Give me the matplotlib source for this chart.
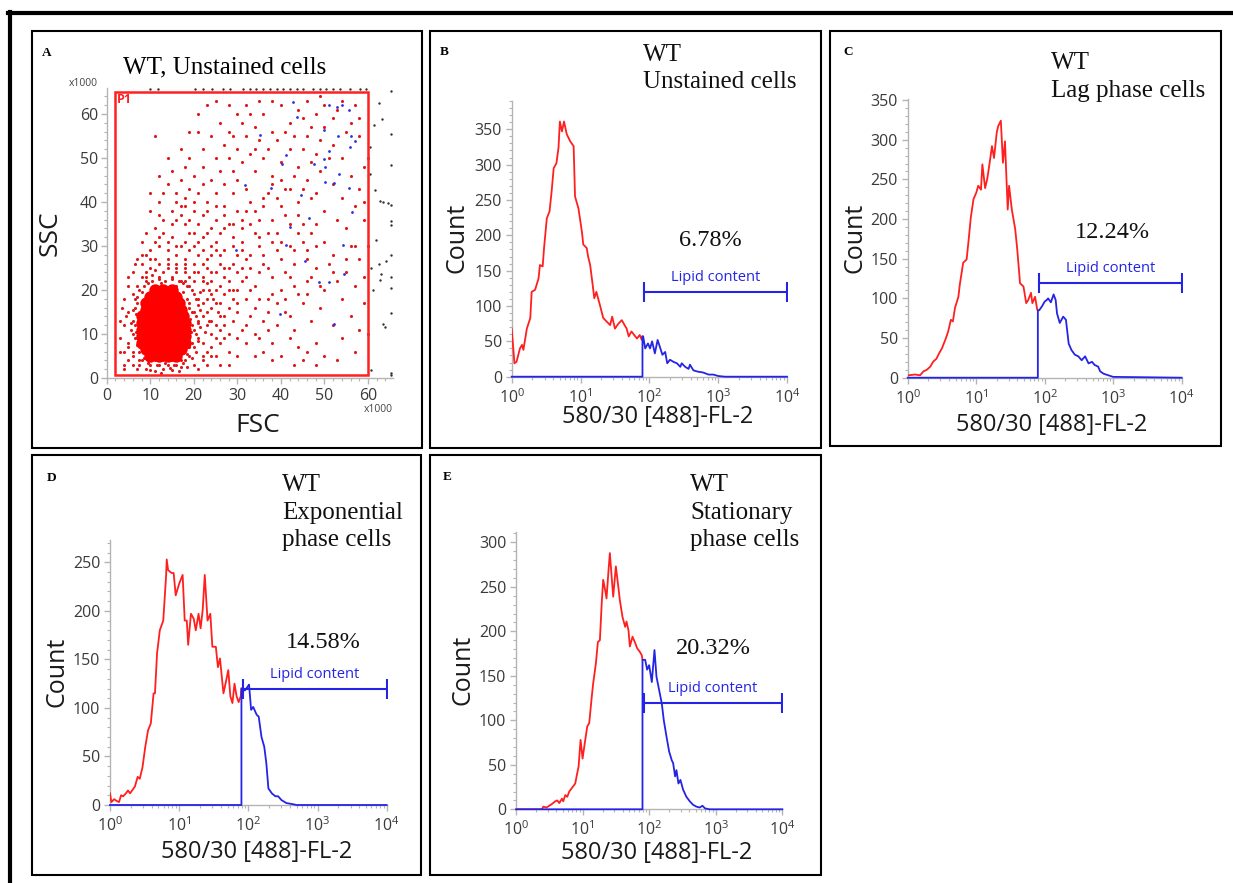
import numpy as np
import matplotlib
matplotlib.use("Agg")
import matplotlib.pyplot as plt
from matplotlib.patches import Rectangle
from matplotlib.lines import Line2D
from matplotlib.ticker import MultipleLocator, LogLocator, NullFormatter, FixedLocator, FixedFormatter

# ---------------------------------------------------------------- data
# Panel A: FSC / SSC scatter (x1000)
core_pts = [(10,5),(12,5),(14,5),(16,5),
            (9,6.5),(11,6.5),(13,6.5),(15,6.5),(17,6.5),
            (8,8),(10,8),(12,8),(14,8),(16,8),(18,8),
            (8,9.5),(10,9.5),(12,9.5),(14,9.5),(16,9.5),(18,9.5),
            (8,11),(10,11),(12,11),(14,11),(16,11),(18,11),
            (8,12.5),(10,12.5),(12,12.5),(14,12.5),(16,12.5),(18,12.5),
            (8,14),(10,14),(12,14),(14,14),(16,14),(17.5,14),
            (9,15.5),(11,15.5),(13,15.5),(15,15.5),(17,15.5),
            (9,17),(11,17),(13,17),(15,17),(16.5,17),
            (10,18.5),(12,18.5),(14,18.5),(16,18.5),
            (11,20),(13,20),(15,20)]

red_pts = [(4,2),(5,4),(6,3),(7,2),(6,6),(5,8),(6,10),(6,13),(5,15),(7,17),(6,19),(7,21),(8,23),(9,24),(8,26),
           (10,25),(11,27),(12,23),(13,24),(14,26),(15,23),(16,25),(17,22),(18,24),(19,21),(20,19),(19,17),(20,15),
           (21,13),(20,11),(21,9),(20,7),(19,5),(18,4),(16,3),(14,3),(12,3),(10,3),(8,4),(9,2),(11,1.5),(13,2),
           (15,1.8),(17,2.5),(20,3),(22,4),(23,6),(22,8),(24,10),(23,12),(22,14),(24,16),(23,18),(22,20),(24,22),
           (21,24),(20,26),(18,27),(16,28),(14,29),(12,30),(10,29),(9,28),(7,27),(6,24),(5,21),(4,18),(4,12),(3,9),
           (4,6),(25,5),(26,8),(25,12),(27,14),(26,17),(25,20),(27,23),(26,26),(24,28),(22,29),(20,30),(18,31),
           (15,32),(13,33),(11,34),(9,33),(8,31),(28,10),(29,18),(28,25),(27,29),(25,31),(23,33),(21,35),(19,36),
           (17,37),(15,38),(12,37),(10,38),(30,15),(31,22),(30,28),(29,32),(27,34),(25,36),(23,38),(20,40),(18,41),
           (16,42),(14,44),(26,3),(28,6),(30,9),(32,12),(33,20),(32,27),(31,31),(34,16),(35,24),(33,35),(30,38),
           (36,6),(38,8),(40,5),(42,9),(44,7),(46,6),(48,8),(50,5),(45,4),(39,12),(41,15),(43,11),(47,13),(49,16),
           (52,12),(54,9),(56,14),(58,11),(37,18),(40,20),(42,23),(44,19),(46,22),(48,25),(50,20),(52,24),(54,18),
           (57,21),(59,17),(36,28),(38,31),(40,27),(42,30),(44,33),(46,29),(48,35),(50,31),(52,28),(55,34),(57,30),
           (59,36),(34,38),(36,41),(38,36),(40,39),(42,43),(44,40),(46,45),(48,42),(50,38),(52,44),(54,41),(56,46),
           (58,43),(30,45),(32,43),(34,47),(36,50),(38,46),(40,49),(42,52),(44,48),(46,55),(48,51),(50,57),(52,53),
           (54,50),(56,58),(58,55),(24,45),(26,47),(28,50),(30,52),(32,55),(34,57),(36,60),(38,56),(40,62),(42,58),
           (44,61),(46,63),(48,60),(50,62),(52,59),(54,63),(57,62),(27,39),(29,42),(31,36),(33,40),(35,32),(37,25),
           (39,33),(41,37),(43,26),(45,35),(47,41),(49,47),(51,50),(53,36),(55,27),(57,39),(59,48),(22,44),(20,46),
           (18,48),(22,52),(24,55),(26,58),(21,60),(23,62),(25,63),(30,60),(32,62),(34,52),(28,56),
           (16,20),(18,22),(21,18),(22,23),(24,19),(25,24),(26,21),(27,19),(28,22),(29,26),(30,20),(31,25),(32,23),
           (33,28),(34,21),(35,30),(36,26),(37,33),(38,23),(39,29),(40,31),(41,24),(42,35),(43,29),(44,37),(45,31),
           (46,27),(47,33),(48,30),(17,30),(19,33),(21,31),(23,27),(25,29),(26,33),(28,35),(29,30),(31,34),(32,38),
           (34,33),(35,36),(36,39),(37,42),(38,44),(39,41),(40,45),(41,43),(43,46),(45,43),(47,49),(15,35),(17,39),
           (19,43),(21,42),(23,40),(25,42),(27,44),(29,47),(31,49),(33,51),(35,54),(37,52),(39,54),(41,56),(43,55),
           (45,52),(47,57),(49,54),(20,22),(22,17),(23,15),(24,13),(26,11),(27,9),(29,13),(30,17),(31,11),(33,14),
           (34,10),(35,18),(36,13),(37,15),(38,19),(39,17),(41,18),(42,14),(43,21),(45,17),(46,19),(47,23),(49,21),
           (51,26),(53,22),(55,24),(56,30),(58,27),
           (7.5,4),(9.5,3.5),(11.5,3),(13.5,3.5),(15.5,3),(17.5,3.5),(19.5,4.5),(20.5,6),(21,8.5),(20.5,10),
           (21.5,11.5),(21,12.5),(20.5,14),(21.5,15.5),(21,16.5),(20.5,18),(21.5,19.5),(19.5,20),(18.5,21),
           (17.5,21.5),(16.5,22),(15,22.5),(13.5,22),(12,22.5),(10.5,22),(9.5,21.5),(8.5,21),(7.5,20),(7,18.5),
           (6.5,16),(6.8,14.5),(6.5,12),(6.8,10.5),(6.5,9),(7,7.5),(7.5,6),(8.5,4.5),(19.5,8),(19.5,12),(19.5,15),
           (22.5,10.5),(23,21.5),(18,26),(14,25),(11,24.5),(9,23),(16,24),(19,23),(22,26),(24,24),(25,17),(26,14),
           (24,7),(22,5),(5,7),(5.5,11),(4.5,14),
           (6,5),(7,9),(5.5,12.5),(6,15.5),(6.5,18),(8,19.5),(9,22),(10.5,23.5),(12.5,21.5),(14.5,21),(16,21),
           (17.5,19.5),(18.5,18),(19,16),(19.2,13.5),(19.3,10.5),(19,7),(18.5,5.5),(17,4),(15,4),(13,4),(11,4),
           (9,4.8),(7.5,3),(10,1.8),(12.5,1.2),(14.5,2.3),(16.5,1.5),(18.5,2.5),(21,2),(23,3),(24,5),(25,9),
           (23.5,13),(25.5,15),(24.5,18),(23.5,20),(22,22),(20,24),(18,25),(16,26),(14,27),(12,26),(10,27),(8,28),
           (6.5,26),(5,23),(3.5,16),(3,13),(3,6),(4,3),
           (27,12),(28,16),(29,20),(27,25),(26,28),(24,30),(22,32),(20,33),(18,35),(16,36),(13,36),(11,31),(12,32),
           (14,31),(16,30),(19,29),(21,28),(23,25),(28,20),(30,24),(32,18),(33,25),(31,29),(29,35),(27,37),(25,39),
           (24,34),(22,37),(20,38),(18,39),(16,40),(12,40),(10,42),(13,42),(15,47),(17,45),(19,50),(22,48),(25,50),
           (27,53),(29,55),(31,58),(33,60),(35,63),(21,56),(17,52),(14,50),(12,46),(11,55),(19,56),(28,62),(38,63),
           (45,59),(49,64),(53,61),(55,56),(58,59),(60,50),(59,40),(60,30),(59,23),(60,10),(57,6),(53,4),(48,3),
           (43,3),(38,4),(34,5),(32,8),(30,5),(28,3),(35,9),(37,11)]

blue_pts = [(42.7,62.7),(43.8,59.3),(51,62.1),(52.8,61.5),(54,62.1),(55.6,60.9),(50,56.4),(53.1,55),(56.1,55),
            (57.1,53.9),(55.8,52.4),(51,51.5),(50,49.7),(47.7,48.6),(50.2,47.9),(53.4,46.4),(50.1,44.6),(52.1,44.2),
            (55.6,43.1),(35.3,55.3),(41.1,50.6),(40.3,48.6),(31.7,43.8),(37.8,43.1),(44.7,41.6),(46.4,36.4),
            (56.3,37.7),(42,34.4),(41.1,30.2),(54.2,30.2),(45.6,26.6),(48.8,21.8),(51,21.8),(54.4,23.6),(39.9,14.5),
            (52.1,12.3),(29.7,29.2)]

gray_pts = [(65.4,65.2),(65.4,55.4),(65.4,48.4),(65.4,39.2),(65.4,35.7),(65.4,34.8),(65.4,28),(65.4,23),
            (65.4,20.4),(65.4,14.7),(65.4,1.1),(65.4,0.7),(63.3,58.8),(62.5,62.6),(61.4,57.5),(60.4,52.4),
            (60.4,46.4),(61.7,42.7),(62.7,40.3),(63.5,40),(64.6,39.8),(61.8,31.3),(60.8,25),(62.5,26),(64.1,26.7),
            (63.1,23.6),(62.7,22.2),(61.2,19.9),(63.5,12.3),(63.9,11.7),(60.6,1.9),
            (9.9,65.6),(11.8,65.6),(20.3,65.6),(22.2,65.6),(24.1,65.6),(26.8,65.6),(28.3,65.6),(31.3,65.6),
            (32.9,65.6),(34.4,65.6),(35.9,65.6),(37.4,65.6),(39,65.6),(40.5,65.6),(42,65.6),(43.6,65.6),
            (45.1,65.6),(47.4,65.6),(48.9,65.6),(50.4,65.6),(52,65.6),(53.5,65.6),(55.8,65.6),(58.1,65.6),(59.6,65.6)]

gate_p1 = [2.0, 0.6, 60.0, 65.0]     # x0, y0, x1, y1

# Histograms: log10(fluorescence) positions and counts
B_log = [0.00,0.04,0.07,0.12,0.15,0.17,0.22,0.27,0.29,0.34,0.39,0.41,0.45,0.47,0.51,0.55,0.58,0.61,0.65,0.68,
         0.70,0.73,0.76,0.80,0.85,0.90,0.92,0.97,1.02,1.04,1.09,1.11,1.14,1.17,1.20,1.23,1.28,1.33,1.38,1.43,
         1.46,1.50,1.55,1.60,1.64,1.67,1.70,1.74,1.78,1.82,1.86,1.89,1.91,1.94,1.98,2.01,2.04,2.08,2.12,2.16,
         2.19,2.23,2.26,2.30,2.35,2.40,2.45,2.47,2.52,2.57,2.59,2.64,2.71,2.78,2.86,2.93,3.00,3.10]
B_cnt = [68,19,21,40,45,38,68,83,120,123,139,158,156,182,224,234,262,295,302,324,
         361,347,361,343,333,326,255,238,205,187,182,170,158,135,111,120,102,83,78,73,
         85,68,75,80,73,68,57,64,59,54,59,52,57,40,47,40,50,33,52,40,
         31,35,19,24,21,19,14,19,14,11,17,9,7,6,3,3,1,0]

C_log = [0.01,0.11,0.18,0.23,0.28,0.33,0.37,0.42,0.46,0.50,0.55,0.59,0.63,0.66,0.69,0.74,0.76,0.81,0.86,0.89,
         0.92,0.96,1.00,1.03,1.07,1.09,1.13,1.16,1.19,1.23,1.26,1.30,1.32,1.36,1.39,1.42,1.46,1.48,1.52,1.57,
         1.60,1.64,1.69,1.73,1.76,1.80,1.82,1.86,1.89,1.92,1.96,2.00,2.03,2.05,2.09,2.13,2.16,2.18,2.22,
         2.27,2.31,2.35,2.39,2.44,2.49,2.54,2.59,2.64,2.69,2.73,2.78,2.81,2.86,2.93,3.00,3.05]
C_cnt = [3,4,3,8,10,14,20,24,31,37,48,58,73,71,88,102,117,145,149,174,
         201,225,233,242,237,269,239,250,267,292,277,309,317,324,271,298,212,242,212,187,
         161,119,115,94,98,107,94,102,86,85,90,96,98,100,95,105,98,81,69,
         77,73,43,35,29,27,22,27,18,20,16,14,8,5,3,1,1]

D_log = [0.00,0.02,0.06,0.10,0.13,0.16,0.19,0.23,0.26,0.29,0.32,0.36,0.40,0.43,0.47,0.51,0.55,0.59,0.63,0.65,
         0.68,0.72,0.77,0.81,0.82,0.84,0.89,0.92,0.95,1.00,1.05,1.08,1.11,1.13,1.17,1.21,1.24,1.28,1.31,1.34,
         1.37,1.41,1.45,1.48,1.53,1.56,1.59,1.64,1.67,1.71,1.74,1.77,1.80,1.83,1.86,1.89,
         1.91,1.95,1.99,2.01,2.04,2.07,2.12,2.15,2.19,2.23,2.26,2.29,2.34,2.39,2.43,2.48,2.55,2.63,2.70]
D_cnt = [12,3,6,4,3,10,9,12,15,12,15,19,29,27,39,60,77,84,115,115,
         156,180,190,235,253,242,239,239,216,228,237,190,190,165,197,192,180,197,182,201,
         237,190,197,163,163,142,151,115,125,139,112,105,125,112,106,112,
         120,118,122,124,98,101,93,91,70,60,43,17,12,9,9,5,2,1,0]

E_log = [0.00,0.39,0.41,0.46,0.50,0.54,0.59,0.62,0.65,0.69,0.71,0.74,0.77,0.80,0.84,0.89,0.91,0.94,0.97,1.00,
         1.04,1.07,1.10,1.14,1.16,1.20,1.23,1.26,1.29,1.31,1.34,1.36,1.39,1.41,1.44,1.46,1.50,1.54,1.56,1.60,
         1.64,1.66,1.69,1.71,1.75,1.79,1.82,1.86,1.89,1.94,1.97,2.00,2.04,2.08,2.11,2.15,2.19,2.22,2.26,
         2.30,2.34,2.36,2.39,2.41,2.44,2.47,2.51,2.56,2.61,2.66,2.71,2.76,2.80,2.84,2.91]
E_cnt = [0,0,3,2,4,6,9,10,7,12,9,16,14,20,24,29,37,48,78,57,
         78,93,97,128,142,164,188,190,235,258,246,237,269,288,258,239,273,248,235,216,
         205,211,201,183,194,187,181,177,173,168,157,162,143,179,149,134,119,100,82,
         65,55,52,37,44,29,33,22,14,9,5,3,2,4,1,0]

gate_log = 1.90            # histogram gate (log10)
lipid_range = [83, 1e4]    # "Lipid content" marker range
lipid_level = 120
percents = ["6.78%", "12.24%", "14.58%", "20.32%"]
hist_xticks = [1, 10, 100, 1000, 10000]
hist_xticklabels = [r"$\mathdefault{10^{0}}$", r"$\mathdefault{10^{1}}$", r"$\mathdefault{10^{2}}$",
                    r"$\mathdefault{10^{3}}$", r"$\mathdefault{10^{4}}$"]

# ---------------------------------------------------------------- style
plt.rcParams['font.family'] = ['Open Sans', 'DejaVu Sans']
SERIF = ['Liberation Serif', 'DejaVu Serif']
RED = '#ff1f1f'
BLUE = '#2424e6'
AX_GRAY = '#b4b4b4'
TICK_TXT = '#3a3a3a'

W, H = 1233, 883
fig = plt.figure(figsize=(W / 100, H / 100), dpi=100)


def fx(px):
    return px / W


def fy(py):
    return 1 - py / H


def ax_px(x0, y_top, x1, y_bot):
    return fig.add_axes([fx(x0), fy(y_bot), (x1 - x0) / W, (y_bot - y_top) / H])


def ftext(px, py, s, **kw):
    fig.text(fx(px), fy(py), s, **kw)


def style_axes(ax):
    for s in ['top', 'right']:
        ax.spines[s].set_visible(False)
    for s in ['left', 'bottom']:
        ax.spines[s].set_color(AX_GRAY)
        ax.spines[s].set_linewidth(1.0)
    ax.tick_params(which='both', color=AX_GRAY, labelcolor=TICK_TXT, direction='out')
    ax.tick_params(which='major', length=4, width=1.0, labelsize=11.5, pad=2)
    ax.tick_params(which='minor', length=2.5, width=0.8)
    ax.set_facecolor('none')


# outer frame (top and left)
fig.add_artist(Line2D([fx(8), fx(1233)], [fy(13), fy(13)], color='black', lw=3.0))
fig.add_artist(Line2D([fx(10), fx(10)], [fy(12), fy(883)], color='black', lw=3.0))

# panel frames
for (x0, y0, x1, y1) in [(32, 31, 422, 448), (430, 31, 821, 448), (830, 31, 1221, 446),
                         (32, 455, 421, 875), (430, 455, 821, 875)]:
    fig.add_artist(Rectangle((fx(x0), fy(y1)), (x1 - x0) / W, (y1 - y0) / H,
                             transform=fig.transFigure, fill=False, ec='black', lw=1.5))

# ---------------------------------------------------------------- panel A
axA = ax_px(106.7, 88, 392.8, 378)
style_axes(axA)
axA.set_xlim(0, 65.7)
axA.set_ylim(0, 65.9)
axA.xaxis.set_major_locator(FixedLocator([0, 10, 20, 30, 40, 50, 60]))
axA.yaxis.set_major_locator(FixedLocator([0, 10, 20, 30, 40, 50, 60]))
axA.xaxis.set_minor_locator(MultipleLocator(2))
axA.yaxis.set_minor_locator(MultipleLocator(2))
axA.tick_params(axis='x', which='major', pad=3)

gx, gy = np.array(gray_pts).T
axA.scatter(gx, gy, s=3, color='#303030', linewidths=0, zorder=2, clip_on=False)
rx, ry = np.array(red_pts).T
axA.scatter(rx, ry, s=5, color='#e01818', linewidths=0, zorder=3)
cx, cy = np.array(core_pts).T
axA.scatter(cx, cy, s=80, color='#ff0000', linewidths=0, zorder=3)
bx, by = np.array(blue_pts).T
axA.scatter(bx, by, s=4, color='#3030e0', linewidths=0, zorder=4)
axA.add_patch(Rectangle((gate_p1[0], gate_p1[1]), gate_p1[2] - gate_p1[0], gate_p1[3] - gate_p1[1],
                        fill=False, ec='#ff2020', lw=1.8, zorder=5))
axA.text(gate_p1[0] + 0.4, gate_p1[3] - 0.2, "P1", color='#ff2020', fontsize=9, va='top', ha='left',
         fontweight='bold', zorder=6)

ftext(42, 53, "A", family=SERIF, fontsize=9.5, fontweight='bold', ha='left', va='center')
ftext(225, 67, "WT, Unstained cells", family=SERIF, fontsize=18, ha='center', va='center')
ftext(83, 84, "x1000", fontsize=7.5, color='#444444', ha='center', va='center')
ftext(378, 410, "x1000", fontsize=7.5, color='#444444', ha='center', va='center')
ftext(50, 233, "SSC", fontsize=19, rotation=90, ha='center', va='center', color='#1a1a1a')
ftext(258, 425, "FSC", fontsize=19, ha='center', va='center', color='#1a1a1a')


# ---------------------------------------------------------------- histograms
def hist_panel(box, logs, counts, ymax, pct, pct_xy, letter_xy, letter, title_lines, title_xy,
               count_xy, xlabel_xy):
    ax = ax_px(*box)
    style_axes(ax)
    ax.set_xscale('log')
    ax.set_xlim(1, 1e4)
    ax.set_ylim(0, ymax)
    ax.xaxis.set_major_locator(FixedLocator(hist_xticks))
    ax.xaxis.set_major_formatter(FixedFormatter(hist_xticklabels))
    ax.xaxis.set_minor_locator(LogLocator(base=10, subs=np.arange(2, 10), numticks=20))
    ax.xaxis.set_minor_formatter(NullFormatter())
    ax.yaxis.set_major_locator(MultipleLocator(50))
    ax.yaxis.set_minor_locator(MultipleLocator(10))
    ax.tick_params(axis='x', which='major', pad=4)
    ax.tick_params(axis='y', which='major', pad=3)

    x = 10 ** np.array(logs)
    c = np.array(counts, dtype=float)
    inside = np.array(logs) >= gate_log
    idx = int(np.argmax(inside))
    gx = 10 ** gate_log
    # red: whole population up to the gate
    ax.plot(np.append(x[:idx], gx), np.append(c[:idx], c[idx]), color=RED, lw=1.3, zorder=3)
    # blue: gated population
    bx = np.concatenate([[1, gx, gx], x[idx:], [1e4]])
    by = np.concatenate([[0, 0, c[idx]], c[idx:], [0]])
    ax.plot(bx, by, color=BLUE, lw=1.3, zorder=4, clip_on=False)
    # lipid content marker
    ax.plot(lipid_range, [lipid_level, lipid_level], color=BLUE, lw=1.5, zorder=5)
    ax.plot(lipid_range, [lipid_level, lipid_level], ls='none', marker='|', ms=15, mew=1.5,
            color=BLUE, zorder=5)
    xm = np.sqrt(lipid_range[0] * lipid_range[1])
    ax.annotate("Lipid content", (xm, lipid_level), xytext=(0, 5), textcoords='offset points',
                ha='center', va='bottom', color=BLUE, fontsize=10.5)

    ftext(*pct_xy, pct, family=SERIF, fontsize=17.5, ha='center', va='center', color='#111111')
    ftext(*letter_xy, letter, family=SERIF, fontsize=9.5, fontweight='bold', ha='left', va='center')
    tx, ty0 = title_xy
    for i, line in enumerate(title_lines):
        ftext(tx, ty0 + i * 27.5, line, family=SERIF, fontsize=18, ha='left', va='center', color='#111111')
    ftext(*count_xy, "Count", fontsize=18, rotation=90, ha='center', va='center', color='#1a1a1a')
    ftext(*xlabel_xy, "580/30 [488]-FL-2", fontsize=17, ha='center', va='center', color='#1a1a1a')
    return ax


hist_panel((511.7, 101, 787, 376.7), B_log, B_cnt, 390, percents[0], (710, 240), (440, 52), "B",
           ["WT", "Unstained cells"], (643, 55), (457, 238), (658, 417))
hist_panel((907.7, 98.5, 1181.7, 377.7), C_log, C_cnt, 352, percents[1], (1112, 232), (843, 52), "C",
           ["WT", "Lag phase cells"], (1051, 63), (855, 238), (1052, 425))
hist_panel((110, 540, 386.7, 805), D_log, D_cnt, 273, percents[2], (323, 642), (47, 478), "D",
           ["WT", "Exponential", "phase cells"], (282, 485), (57, 672), (257, 852))
hist_panel((516, 531.7, 782.3, 809.3), E_log, E_cnt, 312, percents[3], (713, 648), (443, 477), "E",
           ["WT", "Stationary", "phase cells"], (690, 485), (463, 670), (657, 853))

fig.savefig("out.png", dpi=100, facecolor='white')
